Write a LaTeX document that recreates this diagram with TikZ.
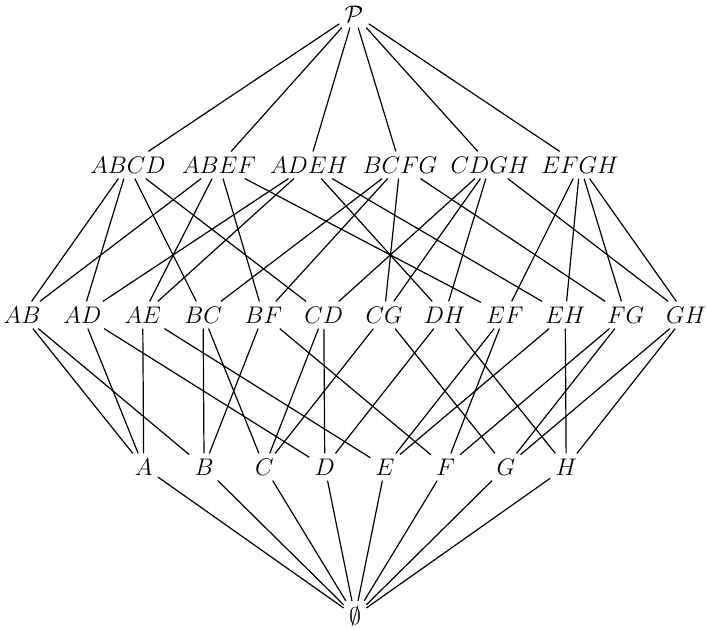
\documentclass[tikz,border=0pt]{standalone}
\begin{document}
\begin{tikzpicture}[x=0.5pt,y=-0.5pt,
  lat/.style={font=\fontsize{12}{14}\selectfont, inner sep=2.5pt},
  edge/.style={line width=0.6pt}]
\useasboundingbox (0,0) rectangle (708,630);
\node[lat] (P) at (354,14) {$\mathcal{P}$};
\foreach \n/\x in {ABCD/128,ABEF/219,ADEH/309,BCFG/400,CDGH/490,EFGH/580}
  \node[lat] (\n) at (\x,165) {$\n$};
\foreach \n [count=\i from 0] in {AB,AD,AE,BC,BF,CD,CG,DH,EF,EH,FG,GH}
  \node[lat] (\n) at ({22+60.36*\i},315) {$\n$};
\foreach \n [count=\i from 0] in {A,B,C,D,E,F,G,H}
  \node[lat] (\n) at ({143.7+60.36*\i},467) {$\n$};
\node[lat] (0) at (355,616) {$\emptyset$};
\foreach \n in {ABCD,ABEF,ADEH,BCFG,CDGH,EFGH} \draw[edge] (P) -- (\n);
\foreach \f/\e in {ABCD/AB,ABCD/AD,ABCD/BC,ABCD/CD,
  ABEF/AB,ABEF/AE,ABEF/BF,ABEF/EF,
  ADEH/AD,ADEH/AE,ADEH/DH,ADEH/EH,
  BCFG/BC,BCFG/BF,BCFG/CG,BCFG/FG,
  CDGH/CD,CDGH/CG,CDGH/DH,CDGH/GH,
  EFGH/EF,EFGH/EH,EFGH/FG,EFGH/GH} \draw[edge] (\f) -- (\e);
\foreach \e/\a/\b in {AB/A/B,AD/A/D,AE/A/E,BC/B/C,BF/B/F,CD/C/D,CG/C/G,DH/D/H,EF/E/F,EH/E/H,FG/F/G,GH/G/H}
  {\draw[edge] (\e) -- (\a); \draw[edge] (\e) -- (\b);}
\foreach \v in {A,B,C,D,E,F,G,H} \draw[edge] (\v) -- (0);
\end{tikzpicture}
\end{document}
